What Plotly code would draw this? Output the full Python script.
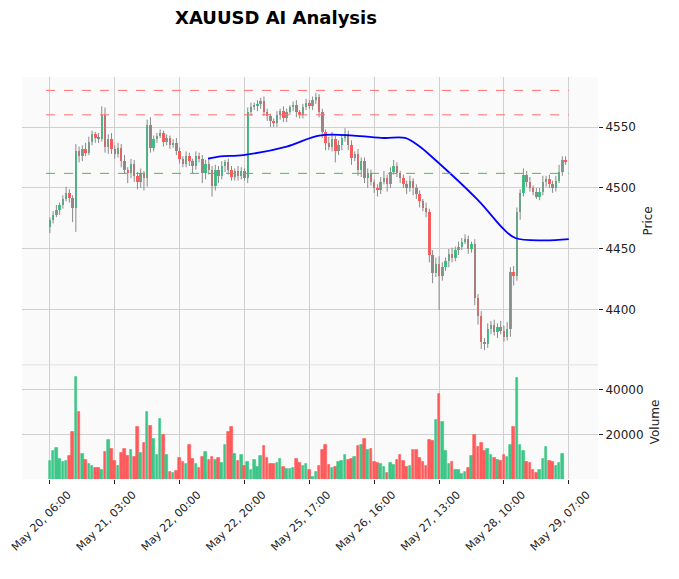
import plotly.graph_objects as go
from plotly.subplots import make_subplots

# hourly XAUUSD candles
closes = [4474, 4478, 4482, 4486, 4491, 4496, 4492, 4484, 4530, 4526,
          4532, 4529, 4538, 4544, 4541, 4540, 4560, 4534, 4540, 4532,
          4528, 4533, 4522, 4515, 4512, 4520, 4510, 4505, 4512, 4508,
          4552, 4533, 4540, 4543, 4545, 4538, 4541, 4535, 4537, 4530,
          4524, 4520, 4526, 4522, 4518, 4526, 4524, 4512, 4520, 4515,
          4502, 4515, 4510, 4518, 4521, 4515, 4509, 4514, 4510, 4514,
          4508, 4562, 4566, 4568, 4569, 4571, 4562, 4559, 4555, 4553,
          4560, 4563, 4557, 4562, 4566, 4568, 4562, 4560, 4566, 4570,
          4567, 4572, 4575, 4562, 4546, 4537, 4534, 4540, 4530, 4535,
          4541, 4544, 4535, 4525, 4528, 4515, 4522, 4508, 4512, 4505,
          4500, 4498, 4505, 4508, 4503, 4513, 4518, 4512, 4508, 4503,
          4500, 4506, 4500, 4495, 4489, 4484, 4480, 4445, 4430, 4438,
          4428, 4435, 4440, 4446, 4443, 4449, 4452, 4456, 4458, 4450,
          4454, 4410, 4395, 4374, 4372, 4384, 4388, 4382, 4386, 4383,
          4378, 4384, 4431, 4428, 4480, 4496, 4511, 4505, 4500, 4497,
          4493, 4497, 4505, 4507, 4503, 4500, 4506, 4513, 4523, 4521]
first_open = 4468
wick_up = [2, 3, 4, 2, 3, 5, 3, 2, 6, 4, 3, 5, 4, 3, 2, 4, 7, 6, 4, 5,
           3, 4, 3, 5, 2, 4, 3, 3, 4, 2, 4, 6, 3, 2, 3, 2, 3, 2, 3, 4,
           3, 2, 4, 3, 2, 4, 3, 3, 3, 5, 3, 4, 3, 4, 2, 3, 3, 2, 4, 3,
           2, 4, 4, 2, 3, 3, 4, 3, 2, 2, 3, 2, 4, 3, 2, 3, 4, 2, 3, 3,
           2, 3, 3, 2, 3, 2, 5, 6, 3, 4, 3, 5, 3, 4, 2, 4, 3, 3, 4, 3,
           2, 3, 4, 6, 3, 4, 5, 3, 2, 3, 3, 4, 2, 3, 3, 2, 4, 3, 4, 5,
           6, 4, 3, 4, 5, 3, 4, 3, 4, 3, 2, 4, 3, 4, 3, 5, 3, 4, 3, 5,
           4, 6, 4, 5, 4, 3, 5, 3, 4, 2, 3, 3, 5, 3, 4, 3, 4, 6, 3, 3]
wick_dn = [5, 3, 2, 4, 3, 2, 4, 12, 20, 5, 4, 3, 2, 3, 4, 3, 2, 5, 6, 4,
           4, 3, 5, 3, 8, 4, 5, 6, 5, 10, 7, 4, 3, 3, 2, 4, 3, 3, 2, 3,
           4, 3, 3, 4, 6, 3, 3, 8, 5, 4, 9, 4, 6, 3, 5, 4, 3, 3, 4, 3,
           2, 4, 3, 2, 5, 4, 3, 4, 5, 3, 3, 4, 3, 3, 2, 3, 4, 3, 3, 2,
           2, 3, 3, 4, 5, 6, 3, 4, 9, 3, 4, 3, 4, 6, 3, 5, 6, 4, 8, 3,
           4, 5, 3, 2, 6, 3, 2, 3, 4, 3, 5, 3, 6, 4, 5, 3, 4, 6, 8, 3,
           28, 4, 3, 5, 4, 3, 4, 3, 2, 4, 3, 6, 7, 6, 5, 3, 4, 3, 5, 3,
           4, 3, 6, 8, 4, 6, 3, 4, 3, 3, 2, 3, 3, 4, 3, 4, 3, 2, 3, 2]
volumes = [8600, 13000, 14400, 9500, 8100, 8600, 10800, 21500, 45900, 30300,
           11700, 9000, 7300, 6400, 5500, 5500, 4600, 12600, 17900, 13900,
           8600, 6400, 12100, 13900, 10800, 13500, 10400, 23700, 12100, 16600,
           30300, 24100, 18400, 11200, 27200, 20100, 11200, 3700, 3300, 4100,
           9900, 8000, 7000, 15700, 9500, 7300, 5500, 10400, 12600, 9000,
           10400, 9000, 9900, 7700, 15700, 21500, 23700, 11700, 8600, 11200,
           6400, 8100, 4600, 9000, 5900, 10800, 15200, 9900, 7300, 7300,
           7700, 9500, 5900, 5000, 5000, 5500, 9500, 7700, 6400, 7300,
           4600, 1500, 3700, 6400, 13500, 15700, 6800, 5500, 5900, 8100,
           8600, 11200, 9000, 9500, 10400, 15200, 15700, 18400, 13500, 13900,
           8100, 7700, 7300, 5900, 3300, 7700, 6800, 9000, 11200, 8600,
           5900, 6400, 13500, 13500, 9900, 8100, 6400, 17900, 17500, 26800,
           38400, 25900, 13000, 7300, 8100, 4600, 4600, 2800, 3700, 5500,
           10800, 20100, 14800, 16600, 13000, 13900, 11200, 9900, 9000, 8600,
           11200, 10400, 15700, 23700, 45400, 15700, 13000, 8100, 7700, 4600,
           3300, 4600, 9500, 14800, 8600, 8100, 6400, 7700, 11700, 150]

# AI overlay: smoothed trend line and levels
trend_x = [48.8, 52.5, 59.6, 73, 83, 93.5, 103, 109.5, 114, 118, 132, 140, 143.5, 152, 160]
trend_y = [4524, 4526, 4527, 4534, 4543, 4543, 4541, 4541, 4534, 4525, 4490, 4466, 4459, 4457, 4458]
resistance = [4580, 4560]
support = [4512]

tick_pos = [0, 20, 40, 60, 80, 100, 120, 140, 160]
tick_text = ["May 20, 06:00", "May 21, 03:00", "May 22, 00:00", "May 22, 20:00",
             "May 25, 17:00", "May 26, 16:00", "May 27, 13:00", "May 28, 10:00",
             "May 29, 07:00"]

UP, DOWN = "#3ec688", "#ff5b5b"

opens = [first_open] + closes[:-1]
idx = list(range(len(closes)))
colors = [UP if c >= o else DOWN for o, c in zip(opens, closes)]
highs = [max(o, c) + w for o, c, w in zip(opens, closes, wick_up)]
lows = [min(o, c) - w for o, c, w in zip(opens, closes, wick_dn)]

wx, wy = [], []
for i, h, l in zip(idx, highs, lows):
    wx += [i, i, None]
    wy += [l, h, None]

fig = make_subplots(rows=2, cols=1, shared_xaxes=True, vertical_spacing=0,
                    row_heights=[0.716, 0.284])

fig.add_trace(go.Scatter(x=wx, y=wy, mode="lines", line=dict(color="#8a8a8a", width=1),
                         hoverinfo="skip"), row=1, col=1)
fig.add_trace(go.Bar(x=idx, y=[c - o if c != o else 0.6 for o, c in zip(opens, closes)],
                     base=opens, marker=dict(color=colors, line=dict(width=0)),
                     width=0.75), row=1, col=1)
fig.add_trace(go.Scatter(x=trend_x, y=trend_y, mode="lines", line=dict(color="#0000ff", width=1.8),
                         line_shape="spline"), row=1, col=1)
fig.add_trace(go.Bar(x=idx, y=volumes, marker=dict(color=colors, line=dict(width=0.6, color=colors)),
                     width=0.8), row=2, col=1)

for lvl in resistance:
    fig.add_shape(type="line", x0=-1.2, x1=160, y0=lvl, y1=lvl, xref="x", yref="y",
                  line=dict(color="#ff7070", width=1, dash="dash"))
for lvl in support:
    fig.add_shape(type="line", x0=-1.2, x1=160, y0=lvl, y1=lvl, xref="x", yref="y",
                  line=dict(color="#4cba4c", width=1, dash="dash"))

grid = "#d0d0d0"
axis_font = dict(family="DejaVu Sans", size=12, color="#222")
fig.update_xaxes(range=[-8.6, 169], showgrid=True, gridcolor=grid, gridwidth=1,
                 tickvals=tick_pos, ticktext=tick_text, zeroline=False, automargin=False,
                 showline=False, tickfont=dict(family="DejaVu Sans", size=11, color="#222"),
                 ticklabeloverflow="allow")
fig.update_xaxes(ticks="outside", ticklen=4, tickcolor="#222", tickangle=-45,
                 ticklabelshift=18, row=2, col=1)
fig.update_yaxes(side="right", showgrid=True, gridcolor=grid, zeroline=False, automargin=False,
                 ticks="outside", ticklen=4, tickcolor="#222", tickfont=axis_font)
fig.update_yaxes(range=[4355, 4591], tickvals=[4400, 4450, 4500, 4550],
                 title=dict(text="Price", font=axis_font, standoff=8), row=1, col=1)
fig.update_yaxes(range=[400, 51100], tickvals=[20000, 40000], tickformat="d",
                 title=dict(text="Volume", font=axis_font, standoff=8), row=2, col=1)

# page body adds an 8px offset, so margins are shifted to compensate
fig.update_layout(
    width=679, height=579, showlegend=False, bargap=0,
    margin=dict(l=14, r=89, t=69, b=108, autoexpand=False),
    paper_bgcolor="white", plot_bgcolor="#fafafa",
    title=dict(text="<b>XAUUSD AI Analysis</b>", x=268 / 679, xanchor="center",
               y=1 - 10 / 579, yanchor="middle", yref="container",
               font=dict(family="DejaVu Sans", size=18, color="black")),
)
fig.add_shape(type="line", xref="paper", yref="paper", x0=0, x1=1, y0=0.284, y1=0.284,
              line=dict(color="#e0e0e0", width=1))

fig.write_html("out.html")
